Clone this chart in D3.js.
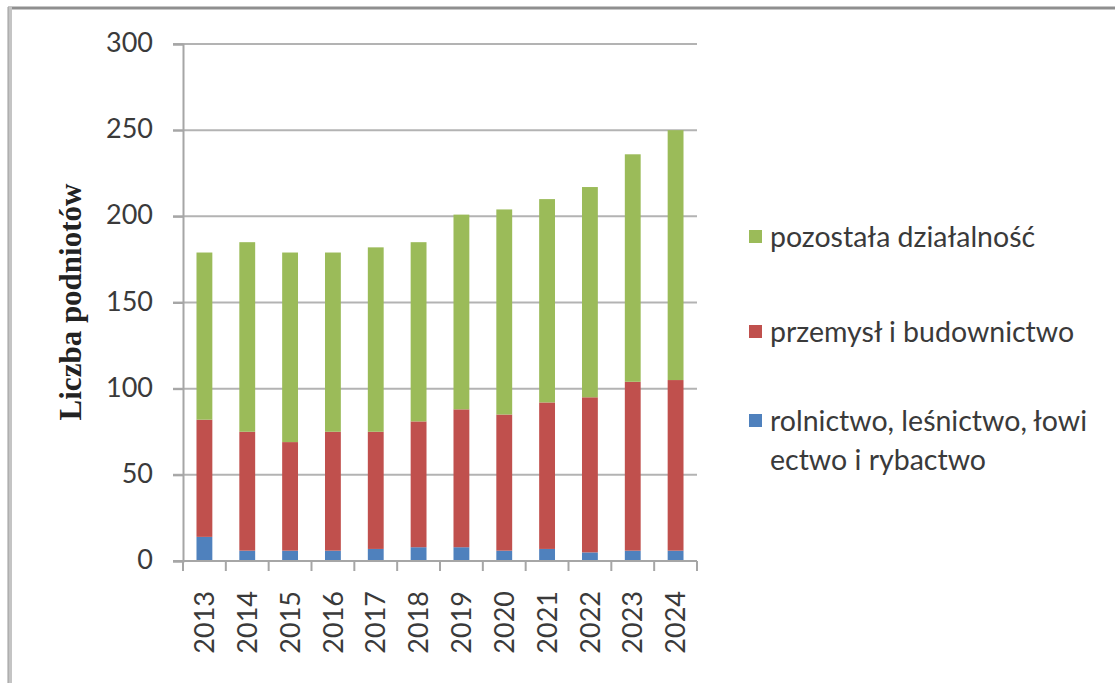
<!DOCTYPE html>
<html>
<head>
<meta charset="utf-8">
<script src="https://cdn.jsdelivr.net/npm/d3@7"></script>
<style>
  html, body { margin: 0; padding: 0; background: #fff; }
  svg { display: block; }
</style>
</head>
<body>
<svg id="chart" width="1115" height="683"></svg>
<script>
const years = ["2013","2014","2015","2016","2017","2018","2019","2020","2021","2022","2023","2024"];
const rolnictwo = [14, 6, 6, 6, 7, 8, 8, 6, 7, 5, 6, 6];
const przemysl  = [68, 69, 63, 69, 68, 73, 80, 79, 85, 90, 98, 99];
const pozostala = [97, 110, 110, 104, 107, 104, 113, 119, 118, 122, 132, 145];
const yTicks = [0, 50, 100, 150, 200, 250, 300];
const seriesKeys = ["rolnictwo", "przemysl", "pozostala"];
const seriesLabels = {
  pozostala: ["pozostała działalność"],
  przemysl: ["przemysł i budownictwo"],
  rolnictwo: ["rolnictwo, leśnictwo, łowi", "ectwo i rybactwo"]
};
const colors = { rolnictwo: "#4f81bd", przemysl: "#c0504d", pozostala: "#9bbb59" };
const yTitle = "Liczba podniotów";

(function () {
const table = years.map((yr, i) => ({
  year: yr, rolnictwo: rolnictwo[i], przemysl: przemysl[i], pozostala: pozostala[i]
}));

const svg = d3.select("#chart");
const pLeft = 183, pRight = 697, pTop = 44, pBottom = 561;

const x = d3.scaleBand().domain(years).range([pLeft, pRight]).paddingInner(0.63).paddingOuter(0.315);
const y = d3.scaleLinear().domain([0, 300]).range([pBottom, pTop]);

// frame
svg.append("line").attr("x1", 8).attr("x2", 1115).attr("y1", 8).attr("y2", 8)
  .attr("stroke", "#8f8f8f").attr("stroke-width", 3);
svg.append("line").attr("x1", 10).attr("x2", 10).attr("y1", 7).attr("y2", 683)
  .attr("stroke", "#c4c4c4").attr("stroke-width", 4);
svg.append("line").attr("x1", 8).attr("x2", 8).attr("y1", 7).attr("y2", 683)
  .attr("stroke", "#9a9a9a").attr("stroke-width", 1);

// gridlines
svg.append("g").selectAll("line").data(yTicks.filter(d => d > 0)).join("line")
  .attr("x1", pLeft - 10).attr("x2", pRight)
  .attr("y1", d => y(d)).attr("y2", d => y(d))
  .attr("stroke", "#b3b3b3").attr("stroke-width", 2);

// y axis
const yAxis = d3.axisLeft(y).tickValues(yTicks).tickSize(10).tickPadding(20);
const gy = svg.append("g").attr("transform", `translate(${pLeft},0)`).call(yAxis);
gy.attr("font-family", null).attr("font-size", null);
gy.select(".domain").attr("stroke", "#a6a6a6").attr("stroke-width", 2);
gy.selectAll(".tick line").attr("stroke", "#a6a6a6").attr("stroke-width", 2);
gy.selectAll(".tick text").attr("font-family", "Lato, 'Open Sans', sans-serif")
  .attr("font-size", 27).attr("fill", "#3a3a3a").attr("dy", "0.28em");

// bars
const stack = d3.stack().keys(seriesKeys)(table);
svg.append("g").selectAll("g").data(stack).join("g")
  .attr("fill", d => colors[d.key])
  .selectAll("rect").data(d => d).join("rect")
  .attr("x", d => x(d.data.year))
  .attr("width", x.bandwidth())
  .attr("y", d => y(d[1]))
  .attr("height", d => y(d[0]) - y(d[1]));

// x axis line + ticks at band boundaries
const boundaries = years.map((yr, i) => pLeft + i * x.step());
boundaries.push(pRight);
svg.append("line").attr("x1", pLeft - 10).attr("x2", pRight).attr("y1", pBottom).attr("y2", pBottom)
  .attr("stroke", "#a6a6a6").attr("stroke-width", 2);
svg.append("g").selectAll("line").data(boundaries).join("line")
  .attr("x1", d => d).attr("x2", d => d).attr("y1", pBottom).attr("y2", pBottom + 10)
  .attr("stroke", "#a6a6a6").attr("stroke-width", 2);

// x labels
svg.append("g").selectAll("text").data(years).join("text")
  .attr("transform", d => `translate(${x(d) + x.bandwidth()/2},${pBottom + 30}) rotate(-90)`)
  .attr("text-anchor", "end").attr("dy", "0.36em")
  .attr("font-family", "Lato, 'Open Sans', sans-serif").attr("font-size", 27)
  .attr("fill", "#3a3a3a").text(d => d);

// y title
svg.append("text")
  .attr("transform", `translate(70,302) rotate(-90)`)
  .attr("text-anchor", "middle").attr("dy", "0.35em")
  .attr("font-family", "'Liberation Serif', 'Times New Roman', serif")
  .attr("font-size", 31).attr("font-weight", "bold").attr("fill", "#222")
  .text(yTitle);

// legend
const legendOrder = ["pozostala", "przemysl", "rolnictwo"];
const legendY = [237, 332, 421];
const lg = svg.append("g");
legendOrder.forEach((k, i) => {
  lg.append("rect").attr("x", 749).attr("y", legendY[i] - 7).attr("width", 13).attr("height", 13)
    .attr("fill", colors[k]);
  seriesLabels[k].forEach((line, j) => {
    lg.append("text").attr("x", 770).attr("y", legendY[i] + j * 39).attr("dy", "0.35em")
      .attr("font-family", "Lato, 'Open Sans', sans-serif").attr("font-size", 28.5)
      .attr("fill", "#3a3a3a").text(line);
  });
});
})();
</script>
</body>
</html>
